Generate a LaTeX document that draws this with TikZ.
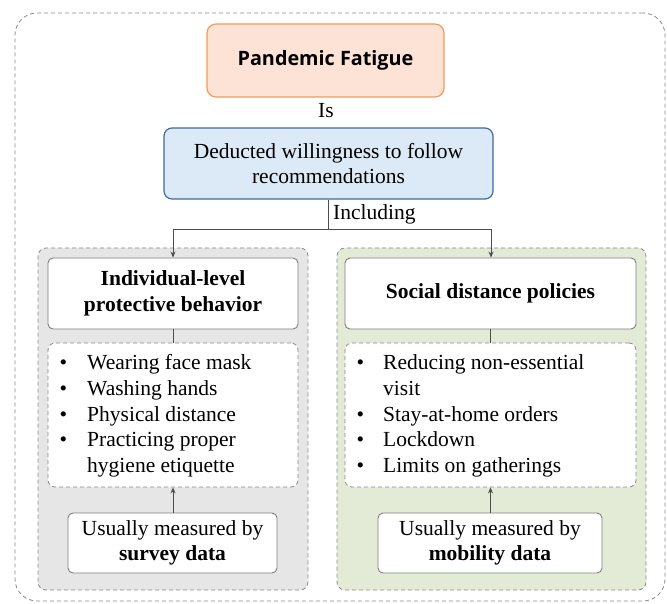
\documentclass[tikz,border=0pt]{standalone}
\usepackage{fontspec}
\setmainfont{Liberation Serif}
\newfontfamily\pfsans{Open Sans}
\usetikzlibrary{arrows.meta}
\definecolor{pffill}{HTML}{FDE3D5}
\definecolor{pfdraw}{HTML}{F59A58}
\definecolor{bfill}{HTML}{DCE9F6}
\definecolor{bdraw}{HTML}{3F6B9E}
\definecolor{gpanel}{HTML}{E6E6E6}
\definecolor{gnpanel}{HTML}{E3EBD7}
\definecolor{dashgray}{HTML}{8A8A8A}
\definecolor{boxgray}{HTML}{7F7F7F}
\definecolor{linegray}{HTML}{4D4D4D}
\tikzset{
  txt/.style={font=\fontsize{21.5}{25.7}\selectfont},
  panel/.style={draw=dashgray, dash pattern=on 4pt off 3pt, rounded corners=8pt, line width=0.8pt, inner sep=0pt},
  hbox/.style={draw=boxgray, fill=white, rounded corners=5pt, line width=0.9pt, inner sep=0pt, align=center, txt},
  lbox/.style={draw=dashgray, fill=white, dash pattern=on 4pt off 3pt, rounded corners=7pt, line width=0.8pt, inner sep=0pt},
  conn/.style={draw=linegray, line width=0.9pt},
  arr/.style={conn, -{Stealth[length=6pt,width=5pt]}},
}
\begin{document}
\begin{tikzpicture}[x=1pt,y=-1pt]
\useasboundingbox (0,0) rectangle (667,604);
% outer frame
\node[panel, rounded corners=22pt, minimum width=650pt, minimum height=588pt] (frame) at (340,307) {};
% panels
\node[panel, fill=gpanel, minimum width=270pt, minimum height=342pt] (lpanel) at (173,419) {};
\node[panel, fill=gnpanel, minimum width=309pt, minimum height=342pt] (rpanel) at (491.5,419) {};
% top
\node[draw=pfdraw, fill=pffill, line width=1.2pt, rounded corners=9pt, minimum width=237pt, minimum height=73pt, font=\pfsans\bfseries\fontsize{19.8}{22}\selectfont] (pf) at (325.5,60.5) {Pandemic Fatigue};
\node[txt, inner sep=0pt] (is) at (326,111) {Is};
\node[draw=bdraw, fill=bfill, line width=1.2pt, rounded corners=8pt, minimum width=329pt, minimum height=71pt, align=center, txt, inner sep=0pt] (blue) at (328.5,163.5) {Deducted willingness to follow\\recommendations};
\coordinate (jc) at (328,229);
\coordinate (jl) at (173,229);
\coordinate (jr) at (491,229);
\node[txt, inner sep=0pt, anchor=west] (incl) at (333,214) {Including};
% headers
\node[hbox, minimum width=250pt, minimum height=71pt, font=\bfseries\fontsize{21.5}{25.7}\selectfont] (lh) at (173,293.5) {Individual-level\\protective behavior};
\node[hbox, minimum width=291pt, minimum height=71pt, font=\bfseries\fontsize{21.5}{25.7}\selectfont] (rh) at (490.5,293.5) {Social distance policies};
% lists
\node[lbox, minimum width=250pt, minimum height=144pt] (ll) at (173,415) {};
\node[lbox, minimum width=291pt, minimum height=144pt] (rl) at (490.5,415) {};
\node[txt, inner sep=0pt, anchor=west] (lltext) at (59.5,416) {%
\begin{tabular}{@{}l@{\hspace{20pt}}l@{}}
\textbullet & Wearing face mask\\
\textbullet & Washing hands\\
\textbullet & Physical distance\\
\textbullet & Practicing proper\\
 & hygiene etiquette
\end{tabular}};
\node[txt, inner sep=0pt, anchor=west] (rltext) at (356.5,416) {%
\begin{tabular}{@{}l@{\hspace{19pt}}l@{}}
\textbullet & Reducing non-essential\\
 & visit\\
\textbullet & Stay-at-home orders\\
\textbullet & Lockdown\\
\textbullet & Limits on gatherings
\end{tabular}};
% bottoms
\node[hbox, minimum width=209pt, minimum height=60pt] (lb) at (172.5,543) {Usually measured by\\\textbf{survey data}};
\node[hbox, minimum width=224pt, minimum height=60pt] (rb) at (490,543) {Usually measured by\\\textbf{mobility data}};
% connectors
\draw[conn] (blue.south -| jc) -- (jc);
\draw[conn] (jl) -- (jr);
\draw[arr] (jl) -- (lh.north);
\draw[arr] (jr) -- (rh.north -| jr);
\draw[conn] (lh.south) -- (ll.north);
\draw[conn] (rh.south) -- (rl.north);
\draw[arr] (lb.north -| ll.south) -- (ll.south);
\draw[arr] (rb.north -| rl.south) -- (rl.south);
\end{tikzpicture}
\end{document}
